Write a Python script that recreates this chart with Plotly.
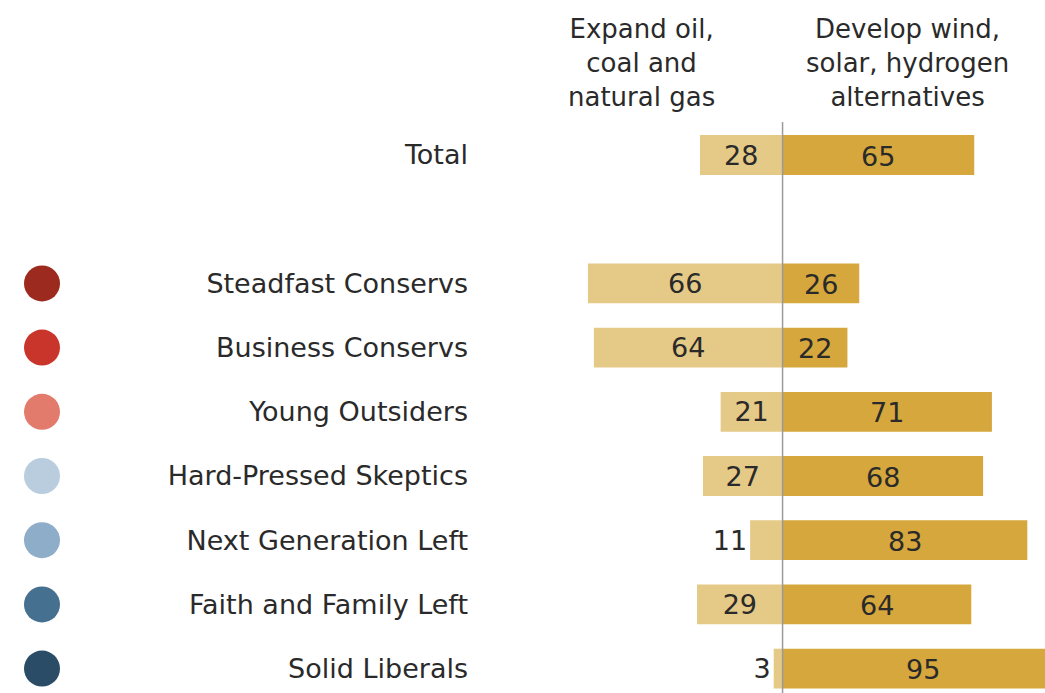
import plotly.graph_objects as go

categories = ["Total", "Steadfast Conservs", "Business Conservs", "Young Outsiders",
              "Hard-Pressed Skeptics", "Next Generation Left", "Faith and Family Left",
              "Solid Liberals"]
expand_fossil = [28, 66, 64, 21, 27, 11, 29, 3]
develop_alt = [65, 26, 22, 71, 68, 83, 64, 95]
dot_colors = [None, "#9c2a1e", "#c9352a", "#e37b6c", "#b9cddf", "#8eadc9", "#45708f", "#2b4c66"]
header_left = "Expand oil,<br>coal and<br>natural gas"
header_right = "Develop wind,<br>solar, hydrogen<br>alternatives"

# row positions: Total, a blank row, then the typology groups
ypos = [0] + [i + 2 for i in range(len(categories) - 1)]

FONT = "DejaVu Sans"
FS = 27
TXT = "#2a2a2a"
W, H = 1045, 693
left_px = 585

fig = go.Figure()

left_pos = ["inside" if v >= 15 else "outside" for v in expand_fossil]
fig.add_trace(go.Bar(
    y=ypos, x=[-v for v in expand_fossil], orientation="h",
    marker=dict(color="#e5c987", line=dict(width=0)),
    text=[str(v) for v in expand_fossil], textposition=left_pos,
    insidetextanchor="middle", constraintext="none",
    textfont=dict(family=FONT, size=FS, color=TXT),
    width=0.62, hoverinfo="skip", cliponaxis=False,
))
fig.add_trace(go.Bar(
    y=ypos, x=develop_alt, orientation="h",
    marker=dict(color="#d6a73c", line=dict(width=0)),
    width=0.62, hoverinfo="skip",
))

# colored dots for typology groups
dy = [y for y, c in zip(ypos, dot_colors) if c]
dc = [c for c in dot_colors if c]
fig.add_trace(go.Scatter(
    x=[0.5] * len(dy), y=dy, xaxis="x2", yaxis="y",
    mode="markers", marker=dict(size=36, color=dc, line=dict(width=0)),
    hoverinfo="skip", showlegend=False,
))

row_px = 64.2
y_total_px = 155
y_top = -y_total_px / row_px
y_bot = (H - y_total_px) / row_px

# value labels centred on the right-hand bars
value_annots = [
    dict(text=str(v), x=v / 2, y=p, xref="x", yref="y", showarrow=False,
         xanchor="center", yanchor="middle", yshift=-1,
         font=dict(family=FONT, size=FS, color=TXT))
    for v, p in zip(develop_alt, ypos)
]

fig.update_layout(
    width=W, height=H, barmode="relative", showlegend=False,
    plot_bgcolor="white", paper_bgcolor="white",
    margin=dict(l=0, r=0, t=0, b=0, autoexpand=False),
    xaxis=dict(range=[-67, 89], visible=False, fixedrange=True,
               domain=[left_px / W, 1]),
    xaxis2=dict(range=[0, 1], visible=False, domain=[20 / W, 64 / W], anchor="y"),
    yaxis=dict(range=[y_bot, y_top], tickvals=ypos, ticktext=categories,
               anchor="x", showgrid=False, zeroline=False, showline=False, ticks="",
               ticklabelstandoff=116,
               tickfont=dict(family=FONT, size=FS, color=TXT),
               automargin=False),
    shapes=[dict(type="line", xref="x", yref="paper", x0=0, x1=0,
                 y0=0, y1=(H - 122) / H, line=dict(color="#9a9a9a", width=1.5),
                 layer="above")],
    annotations=[
        dict(text=header_left, xref="paper", yref="paper",
             x=641 / W, y=1 - 12 / H, xanchor="center", yanchor="top",
             showarrow=False, align="center",
             font=dict(family=FONT, size=FS - 1, color=TXT)),
        dict(text=header_right, xref="paper", yref="paper",
             x=907 / W, y=1 - 12 / H, xanchor="center", yanchor="top",
             showarrow=False, align="center",
             font=dict(family=FONT, size=FS - 1, color=TXT)),
    ] + value_annots,
)

fig.write_html("out.html")
